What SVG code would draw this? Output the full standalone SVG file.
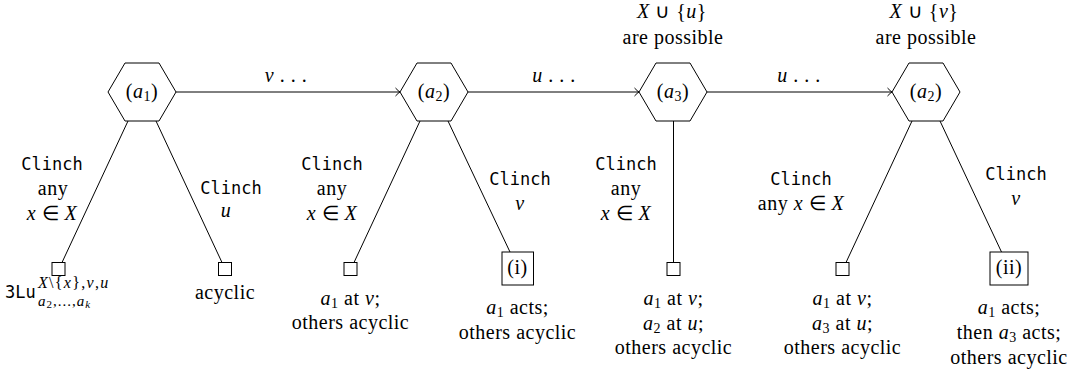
<svg xmlns="http://www.w3.org/2000/svg" width="1087" height="369" viewBox="0 0 1087 369">
<style>
.t{font-family:"Liberation Serif","Times New Roman",serif;font-size:20px;fill:#000;text-anchor:middle;letter-spacing:0.5px}
.m{font-family:"DejaVu Sans Mono","Liberation Mono",monospace;font-size:17px;fill:#000;text-anchor:middle}
.i{font-style:italic}
.s{font-size:14px}
.hex{fill:#fff;stroke:#000;stroke-width:1}
.box{fill:#fff;stroke:#000;stroke-width:1}
.e{fill:none;stroke:#000;stroke-width:1}
</style>
<defs>
<marker id="arr" markerWidth="10" markerHeight="10" refX="8" refY="5" orient="auto" markerUnits="userSpaceOnUse">
<path d="M3.5,1 Q6.5,4.2 8,5 Q6.5,5.8 3.5,9" fill="none" stroke="#000" stroke-width="1"/>
</marker>
</defs>
<g id="connectors">
<line class="e" x1="176" y1="92" x2="400" y2="92" marker-end="url(#arr)"/>
<line class="e" x1="468" y1="92" x2="639" y2="92" marker-end="url(#arr)"/>
<line class="e" x1="707" y1="92" x2="892" y2="92" marker-end="url(#arr)"/>
<line class="e" x1="128" y1="121" x2="62" y2="262.5"/>
<line class="e" x1="156" y1="121" x2="222" y2="262.5"/>
<line class="e" x1="420" y1="121" x2="354" y2="262.5"/>
<line class="e" x1="448" y1="121" x2="510" y2="252"/>
<line class="e" x1="673.5" y1="121" x2="673.5" y2="262.5"/>
<line class="e" x1="912" y1="121" x2="846" y2="262.5"/>
<line class="e" x1="940" y1="121" x2="1001.5" y2="252"/>
<text class="t" x="286" y="82"><tspan class="i">v</tspan> . . .</text>
<text class="t" x="554" y="82"><tspan class="i">u</tspan> . . .</text>
<text class="t" x="799" y="82"><tspan class="i">u</tspan> . . .</text>
<text class="m" x="52" y="170">Clinch</text>
<text class="t" x="53" y="195">any</text>
<text class="t" x="52" y="220"><tspan class="i">x</tspan> ∈ <tspan class="i">X</tspan></text>
<text class="m" x="231" y="194">Clinch</text>
<text class="t" x="226" y="217"><tspan class="i">u</tspan></text>
<text class="m" x="332" y="170">Clinch</text>
<text class="t" x="332" y="195">any</text>
<text class="t" x="332" y="220"><tspan class="i">x</tspan> ∈ <tspan class="i">X</tspan></text>
<text class="m" x="520" y="185">Clinch</text>
<text class="t" x="520" y="210"><tspan class="i">v</tspan></text>
<text class="m" x="626" y="170">Clinch</text>
<text class="t" x="626" y="195">any</text>
<text class="t" x="626" y="220"><tspan class="i">x</tspan> ∈ <tspan class="i">X</tspan></text>
<text class="m" x="801" y="185">Clinch</text>
<text class="t" x="801" y="210">any <tspan class="i">x</tspan> ∈ <tspan class="i">X</tspan></text>
<text class="m" x="1016" y="180">Clinch</text>
<text class="t" x="1016" y="205"><tspan class="i">v</tspan></text>
</g>
<g id="n-a1">
<polygon class="hex" points="108,92 125,63 159,63 176,92 159,121 125,121"/>
<text class="t" x="142" y="98">(<tspan class="i">a</tspan><tspan class="s" dy="3">1</tspan><tspan dy="-3">)</tspan></text>
</g>
<g id="n-a2">
<polygon class="hex" points="400,92 417,63 451,63 468,92 451,121 417,121"/>
<text class="t" x="434" y="98">(<tspan class="i">a</tspan><tspan class="s" dy="3">2</tspan><tspan dy="-3">)</tspan></text>
</g>
<g id="n-a3">
<polygon class="hex" points="639,92 656,63 690,63 707,92 690,121 656,121"/>
<text class="t" x="673" y="98">(<tspan class="i">a</tspan><tspan class="s" dy="3">3</tspan><tspan dy="-3">)</tspan></text>
<text class="t" x="672" y="18"><tspan class="i">X</tspan> ∪ {<tspan class="i">u</tspan>}</text>
<text class="t" x="673" y="44">are possible</text>
</g>
<g id="n-a2b">
<polygon class="hex" points="892,92 909,63 943,63 960,92 943,121 909,121"/>
<text class="t" x="926" y="98">(<tspan class="i">a</tspan><tspan class="s" dy="3">2</tspan><tspan dy="-3">)</tspan></text>
<text class="t" x="924" y="18"><tspan class="i">X</tspan> ∪ {<tspan class="i">v</tspan>}</text>
<text class="t" x="926" y="44">are possible</text>
</g>
<g id="n-l1">
<rect class="box" x="52" y="262.5" width="13" height="13"/>
<text class="m" x="5" y="298" style="text-anchor:start">3Lu</text>
<text class="t" x="38" y="288" style="text-anchor:start;font-size:16px;letter-spacing:1.3px"><tspan class="i">X</tspan>\{<tspan class="i">x</tspan>},<tspan class="i">v</tspan>,<tspan class="i">u</tspan></text>
<text class="t" x="38" y="306" style="text-anchor:start;font-size:15px;letter-spacing:1px"><tspan class="i">a</tspan><tspan font-size="11" dy="2">2</tspan><tspan dy="-2">,...,</tspan><tspan class="i">a</tspan><tspan class="i" font-size="11" dy="2">k</tspan></text>
</g>
<g id="n-l2">
<rect class="box" x="218.5" y="262.5" width="13" height="13"/>
<text class="t" x="225" y="299">acyclic</text>
</g>
<g id="n-l3">
<rect class="box" x="344" y="262.5" width="13" height="13"/>
<text class="t" x="350.5" y="305"><tspan class="i">a</tspan><tspan class="s" dy="3">1</tspan><tspan dy="-3"> at </tspan><tspan class="i">v</tspan>;</text>
<text class="t" x="350.5" y="329">others acyclic</text>
</g>
<g id="n-i">
<rect class="box" x="502" y="252" width="31.5" height="33"/>
<text class="t" x="517.5" y="274">(i)</text>
<text class="t" x="517.5" y="314"><tspan class="i">a</tspan><tspan class="s" dy="3">1</tspan><tspan dy="-3"> acts;</tspan></text>
<text class="t" x="517.5" y="339">others acyclic</text>
</g>
<g id="n-l4">
<rect class="box" x="667" y="262.5" width="13" height="13"/>
<text class="t" x="673.5" y="305"><tspan class="i">a</tspan><tspan class="s" dy="3">1</tspan><tspan dy="-3"> at </tspan><tspan class="i">v</tspan>;</text>
<text class="t" x="673.5" y="330"><tspan class="i">a</tspan><tspan class="s" dy="3">2</tspan><tspan dy="-3"> at </tspan><tspan class="i">u</tspan>;</text>
<text class="t" x="673.5" y="354">others acyclic</text>
</g>
<g id="n-l5">
<rect class="box" x="836" y="262.5" width="13" height="13"/>
<text class="t" x="842.5" y="305"><tspan class="i">a</tspan><tspan class="s" dy="3">1</tspan><tspan dy="-3"> at </tspan><tspan class="i">v</tspan>;</text>
<text class="t" x="842.5" y="330"><tspan class="i">a</tspan><tspan class="s" dy="3">3</tspan><tspan dy="-3"> at </tspan><tspan class="i">u</tspan>;</text>
<text class="t" x="842.5" y="354">others acyclic</text>
</g>
<g id="n-ii">
<rect class="box" x="990" y="252" width="38" height="33"/>
<text class="t" x="1009" y="274">(ii)</text>
<text class="t" x="1009" y="314"><tspan class="i">a</tspan><tspan class="s" dy="3">1</tspan><tspan dy="-3"> acts;</tspan></text>
<text class="t" x="1009" y="339">then <tspan class="i">a</tspan><tspan class="s" dy="3">3</tspan><tspan dy="-3"> acts;</tspan></text>
<text class="t" x="1009" y="364">others acyclic</text>
</g>
</svg>
